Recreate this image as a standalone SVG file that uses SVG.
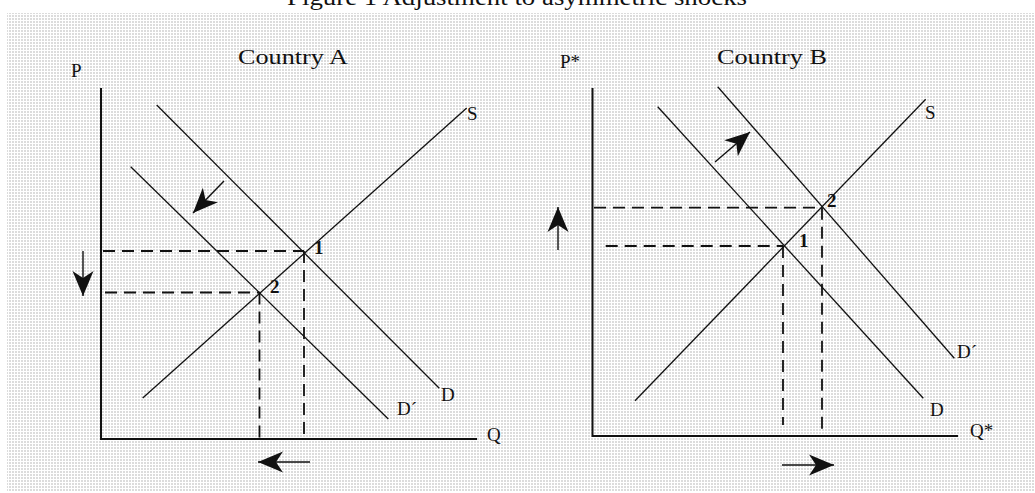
<svg xmlns="http://www.w3.org/2000/svg" width="1035" height="493" viewBox="0 0 1035 493">
  <defs>
    <pattern id="dots" width="3" height="3" patternUnits="userSpaceOnUse">
      <rect width="3" height="3" fill="#ffffff"/>
      <rect width="2" height="2" fill="#dcdcdc"/>
    </pattern>
    <marker id="head" markerUnits="userSpaceOnUse" markerWidth="28" markerHeight="24" refX="25" refY="12" orient="auto" viewBox="0 0 28 24">
      <path d="M25,12 L0,1.5 L7,12 L0,22.5 Z" fill="#111"/>
    </marker>
    <style>
      .ax{stroke:#111;stroke-width:2;fill:none}
      .cv{stroke:#111;stroke-width:1.3;fill:none}
      .ds{stroke:#111;stroke-width:1.8;fill:none;stroke-dasharray:12 7}
      .ar{stroke:#111;stroke-width:1.4;fill:none;marker-end:url(#head)}
      .lb{font-family:"Liberation Serif",serif;font-size:19px;fill:#111}
      .tt{font-family:"Liberation Serif",serif;font-size:22px;fill:#111}
      .pt{font-family:"Liberation Serif",serif;font-size:19px;font-weight:bold;fill:#111}
    </style>
  </defs>
  <rect width="1035" height="493" fill="#ffffff"/>
  <rect x="7" y="13" width="1028" height="478" fill="url(#dots)"/>
  <text x="517" y="5" text-anchor="middle" font-family="Liberation Serif, serif" font-size="24" fill="#111" textLength="460" lengthAdjust="spacingAndGlyphs">Figure 1 Adjustment to asymmetric shocks</text>

  <g id="panel-a">
    <g id="a-axes">
      <line class="ax" x1="101" y1="88" x2="101" y2="440"/>
      <line class="ax" x1="100" y1="439" x2="477" y2="439"/>
    </g>
    <g id="a-curves">
      <line class="cv" x1="142.7" y1="398" x2="466.7" y2="108"/>
      <line class="cv" x1="156.7" y1="105" x2="439.3" y2="388.3"/>
      <line class="cv" x1="130.7" y1="166.7" x2="388.3" y2="419"/>
    </g>
    <g id="a-guides">
      <line class="ds" x1="103" y1="251" x2="304" y2="251"/>
      <line class="ds" x1="105" y1="292.5" x2="259.5" y2="292.5"/>
      <line class="ds" x1="304" y1="251" x2="304" y2="439"/>
      <line class="ds" x1="259.5" y1="292.5" x2="259.5" y2="442"/>
    </g>
    <g id="a-labels">
      <text class="lb" x="71" y="77">P</text>
      <text class="tt" x="238" y="64" textLength="110" lengthAdjust="spacingAndGlyphs">Country A</text>
      <text class="lb" x="467" y="120">S</text>
      <text class="lb" x="487" y="441">Q</text>
      <text class="lb" x="441" y="401">D</text>
      <text class="lb" x="397" y="415">D´</text>
      <text class="pt" x="314" y="254">1</text>
      <text class="pt" x="270" y="293">2</text>
    </g>
    <g id="a-arrows">
      <line class="ar" x1="224" y1="181" x2="193" y2="213"/>
      <line class="ar" x1="83" y1="251" x2="83" y2="296"/>
      <line class="ar" x1="310" y1="462" x2="258" y2="462"/>
    </g>
  </g>

  <g id="panel-b">
    <g id="b-axes">
      <line class="ax" x1="592.5" y1="88" x2="592.5" y2="437"/>
      <line class="ax" x1="592" y1="436" x2="958" y2="436"/>
    </g>
    <g id="b-curves">
      <line class="cv" x1="635" y1="400.7" x2="925.7" y2="99.3"/>
      <line class="cv" x1="657.7" y1="106.7" x2="923.3" y2="398.3"/>
      <line class="cv" x1="717.7" y1="86.7" x2="954.3" y2="358.3"/>
    </g>
    <g id="b-guides">
      <line class="ds" x1="594" y1="207.7" x2="821.7" y2="207.7"/>
      <line class="ds" x1="605.7" y1="246" x2="783.3" y2="246"/>
      <line class="ds" x1="783" y1="246" x2="783" y2="425"/>
      <line class="ds" x1="822" y1="207.7" x2="822" y2="436"/>
    </g>
    <g id="b-labels">
      <text class="lb" x="560" y="68">P*</text>
      <text class="tt" x="717" y="64" textLength="110" lengthAdjust="spacingAndGlyphs">Country B</text>
      <text class="lb" x="925" y="119">S</text>
      <text class="lb" x="970" y="437">Q*</text>
      <text class="lb" x="957" y="358">D´</text>
      <text class="lb" x="930" y="416">D</text>
      <text class="pt" x="799" y="247">1</text>
      <text class="pt" x="827" y="207">2</text>
    </g>
    <g id="b-arrows">
      <line class="ar" x1="715" y1="162" x2="750" y2="132"/>
      <line class="ar" x1="558" y1="250" x2="558" y2="207"/>
      <line class="ar" x1="782" y1="465" x2="834" y2="465"/>
    </g>
  </g>
</svg>
